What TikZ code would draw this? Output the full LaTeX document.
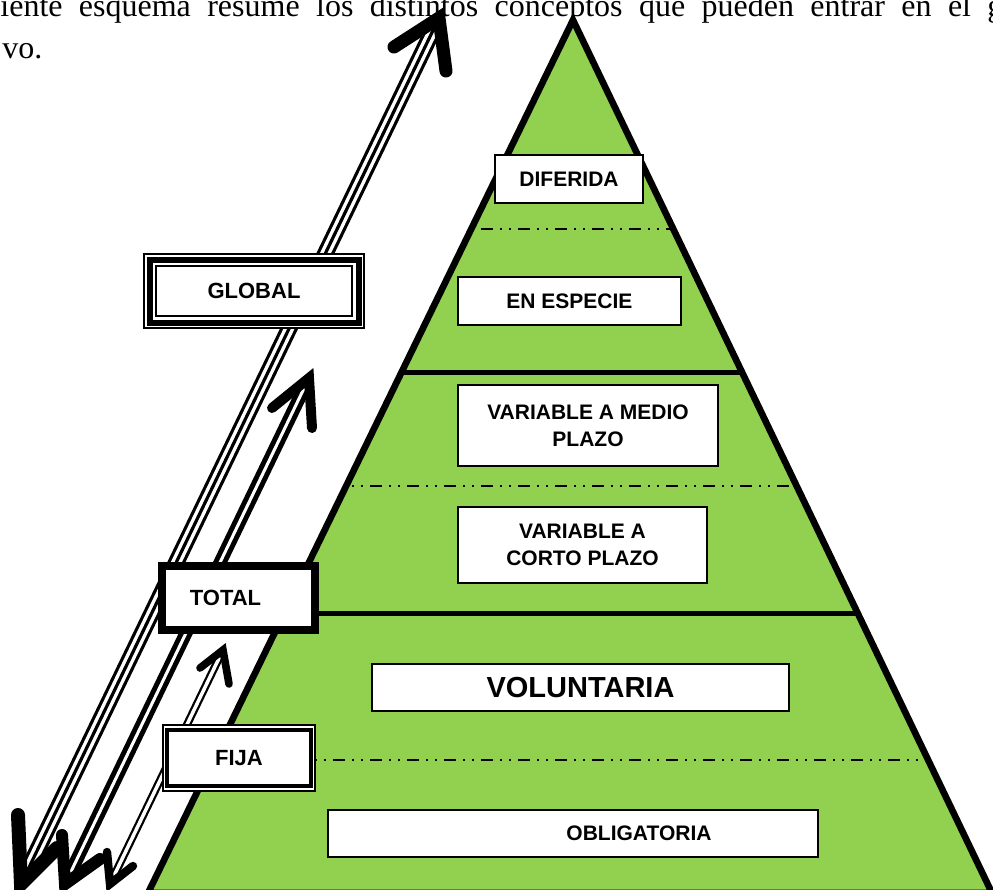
\documentclass[tikz,border=0pt]{standalone}
\usepackage{fontspec}
\setmainfont{Liberation Serif}
\newfontfamily\arialfont{Liberation Sans}
\usetikzlibrary{calc}
\definecolor{pyrgreen}{RGB}{146,208,80}

\begin{document}
\begin{tikzpicture}[x=0.5pt,y=-0.5pt,
  labelbox/.style={draw=black, line width=0.75pt, fill=white, inner sep=0pt,
    align=center, font=\arialfont\bfseries\fontsize{10.5}{13.5}\selectfont},
  sidebox/.style={fill=white, inner sep=0pt,
    font=\arialfont\bfseries\fontsize{11}{13.5}\selectfont},
  tier/.style={line width=2.5pt},
  dashsep/.style={line width=0.9pt,
    dash pattern=on 6pt off 3.5pt on 1pt off 3.5pt on 1pt off 3.5pt},
  head/.style={line cap=round, line join=miter, miter limit=20},
  bodytext/.style={inner sep=0pt, anchor=base west, font=\fontsize{16}{18}\selectfont}
]
\useasboundingbox (0,0) rectangle (993,890);
\clip (0,0) rectangle (993,890);

% running text above the figure
\node[bodytext] (lineA) at (0,16)
  {\hbox to 501.5pt{iente\hfill esquema\hfill resume\hfill los\hfill distintos\hfill
   conceptos\hfill que\hfill pueden\hfill entrar\hfill en\hfill el\hfill g}};
\node[bodytext] (lineB) at (2,58) {vo.};

% pyramid
\coordinate (apex) at (573,20);
\coordinate (bl) at (148,893);
\coordinate (br) at (992,893);
\fill[pyrgreen] (apex) -- (bl) -- (br) -- cycle;
\begin{scope}
  \clip (apex) -- (bl) -- (br) -- cycle;
  \draw[tier] (0,372) -- (993,372);
  \draw[tier] (0,613) -- (993,613);
  \draw[dashsep] (0,229) -- (993,229);
  \draw[dashsep] (0,486) -- (993,486);
  \draw[dashsep] (0,760) -- (993,760);
\end{scope}
\draw[line width=3.3pt, line join=miter] (apex) -- (bl) -- (br) -- cycle;

% arrow end points
\coordinate (gTop) at (439,18);  \coordinate (gBot) at (21,884);
\coordinate (tTop) at (309,378); \coordinate (tBot) at (65,884);
\coordinate (fTop) at (223,650); \coordinate (fBot) at (110,884);

% GLOBAL arrow: triple shaft
\draw[line width=1.6pt, double=white, double distance=5pt,
      shorten <=6pt, shorten >=6pt] (gBot) -- (gTop);
\draw[line width=1.6pt, shorten <=6pt, shorten >=6pt] (gBot) -- (gTop);
\draw[head, line width=6.5pt] (394,47) -- (gTop) -- (446,71);
\draw[head, line width=7pt] (18,815) -- (gBot) -- (57,848);

% TOTAL arrow: double shaft
\draw[line width=2.5pt, double=white, double distance=1.5pt,
      shorten <=5pt, shorten >=5pt] (tBot) -- (tTop);
\draw[head, line width=5pt] (272,408) -- (tTop) -- (312,428);
\draw[head, line width=6pt] (62,835) -- (tBot) -- (100,859);

% FIJA arrow: double shaft
\draw[line width=1.125pt, double=white, double distance=1.75pt,
      shorten <=4pt, shorten >=4pt] (fBot) -- (fTop);
\draw[head, line width=3.8pt] (200,668) -- (fTop) -- (229,684);
\draw[head, line width=4.2pt] (107,852) -- (fBot) -- (133,866);

% boxes inside the pyramid
\node[labelbox, minimum width=74pt, minimum height=24pt] (diferida) at (569,179) {DIFERIDA};
\node[labelbox, minimum width=111.5pt, minimum height=24pt] (especie) at (569.5,301) {EN ESPECIE};
\node[labelbox, minimum width=130pt, minimum height=40.5pt] (medio) at (588,425.5)
  {VARIABLE A MEDIO\\PLAZO};
\node[labelbox, minimum width=124.5pt, minimum height=38pt] (corto) at (582.5,545)
  {VARIABLE A\\CORTO PLAZO};
\node[labelbox, minimum width=208.5pt, minimum height=23.5pt,
      font=\arialfont\bfseries\fontsize{14.5}{17}\selectfont] (voluntaria) at (580.5,687.5)
  {VOLUNTARIA};
\node[labelbox, minimum width=245pt, minimum height=23.5pt] (obligatoria) at (573,833.5)
  {\hspace*{66pt}OBLIGATORIA};

% boxes on the left
\node[sidebox, draw, line width=1pt, minimum width=110pt, minimum height=37pt] (global) at (254,291) {GLOBAL};
\draw[line width=3pt] ([shift={(6.5,6.5)}]global.north west) rectangle ([shift={(-6.5,-6.5)}]global.south east);
\draw[line width=1pt] ([shift={(13,13)}]global.north west) rectangle ([shift={(-13,-13)}]global.south east);

\node[sidebox, draw, line width=3.5pt, minimum width=77pt, minimum height=32.5pt] (total) at (238.5,597.5)
  {TOTAL\hspace*{13pt}};
\draw[line width=1pt] ([shift={(6.5,7)}]total.north west) rectangle ([shift={(-7.5,-7)}]total.south east);

\node[sidebox, draw, line width=1pt, minimum width=76pt, minimum height=33pt] (fija) at (239,758) {FIJA};
\draw[line width=1.75pt] ([shift={(5,6)}]fija.north west) rectangle ([shift={(-5,-6)}]fija.south east);
\end{tikzpicture}
\end{document}
